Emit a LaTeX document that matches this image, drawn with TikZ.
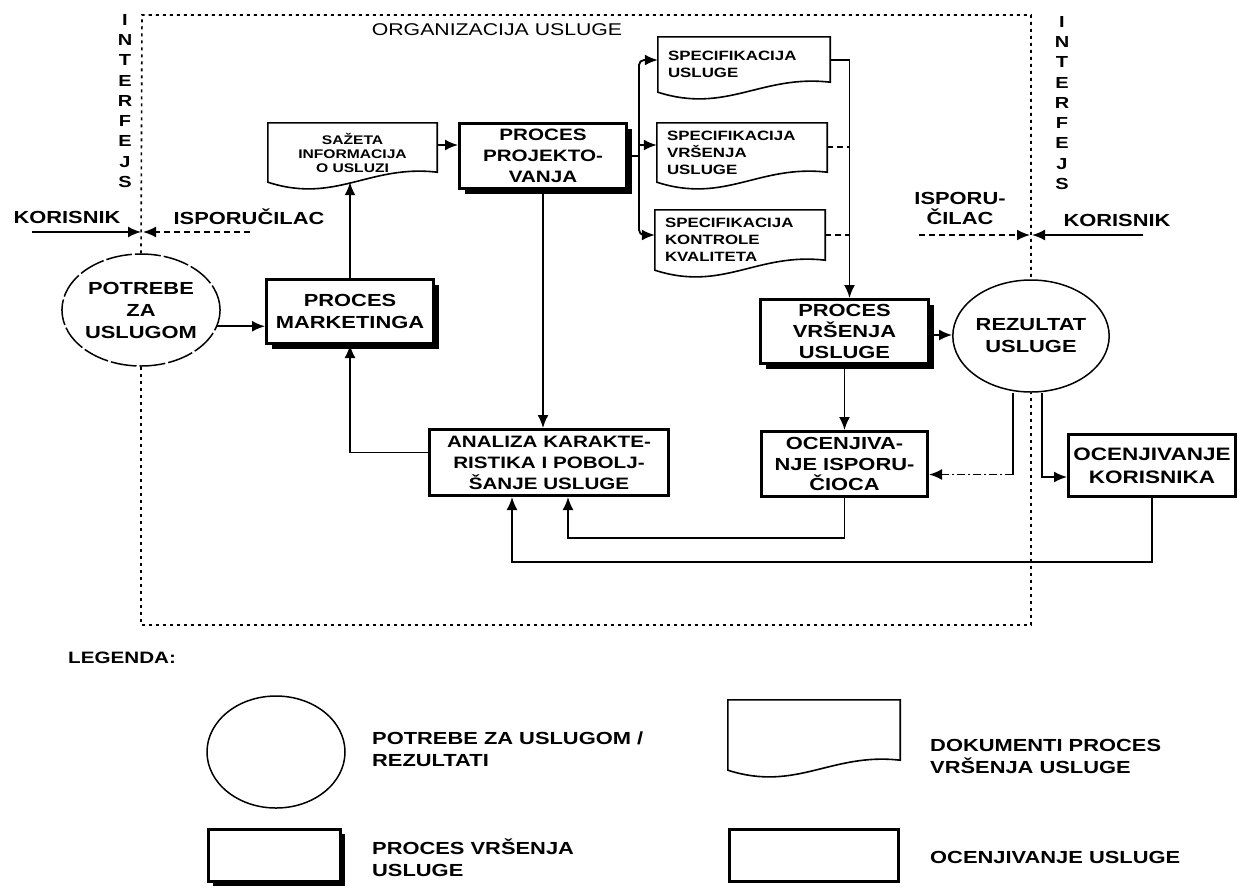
\documentclass[tikz,border=0pt]{standalone}
\usepackage{fontspec}
\setmainfont{Liberation Sans}[FakeStretch=1.25]
\usetikzlibrary{arrows.meta,shapes.geometric,shadows,calc}

\tikzset{
  bxtext/.style={font=\bfseries\fontsize{17}{21}\selectfont, align=center, inner sep=0pt},
  procbox/.style={bxtext, draw, line width=3pt, fill=white,
    drop shadow={shadow xshift=5pt,shadow yshift=-5pt,opacity=1,fill=black}},
  evalbox/.style={bxtext, draw, line width=3pt, fill=white},
  needell/.style={ellipse, draw, line width=1.5pt, minimum width=138pt, minimum height=112pt,
    inner sep=0pt, align=center, font=\bfseries\fontsize{17.5}{22}\selectfont},
  dx/.style={inner sep=0pt, font=\bfseries\fontsize{13.5}{17}\selectfont},
  docline/.style={line width=1.6pt},
  conn/.style={line width=1.8pt},
  arr/.style={conn, -{Latex[length=13pt,width=11pt]}},
  bound/.style={line width=1.6pt, dash pattern=on 3pt off 4pt},
  lbl/.style={inner sep=0pt, font=\bfseries\fontsize{17.5}{22}\selectfont},
  legtext/.style={inner sep=0pt, anchor=west, align=left, font=\bfseries\fontsize{17.5}{22}\selectfont},
  dashline/.style={dash pattern=on 6pt off 4pt},
  dashdotline/.style={dash pattern=on 8pt off 3pt on 2pt off 3pt},
}

\newcommand\docoutline[1]{%
  \draw[docline] (#1.south west) -- (#1.north west) -- (#1.north east)
    -- ($(#1.south east)+(0,-10)$)
    .. controls ($(#1.south west)!0.6!(#1.south east)+(0,-18)$)
    and ($(#1.south west)!0.4!(#1.south east)+(0,22)$) .. (#1.south west) -- cycle;}

\begin{document}
\begin{tikzpicture}[x=1pt,y=-1pt]
\path[use as bounding box, fill=white] (0,0) rectangle (1241,887);

% ---------- interface / organisation boundary ----------
\node[needell, dash pattern=on 26pt off 3pt] (potrebe) at (141,310) {POTREBE\\ZA\\USLUGOM};
\node[needell] (rez) at (1031,336) {REZULTAT\\USLUGE};

\coordinate (tl) at (142,15);
\coordinate (tr) at (1031,15);
\coordinate (bl) at (141,625);
\coordinate (br) at (1031,625);
\draw[bound] (potrebe.north) -- (tl) -- (tr) -- (rez.north);
\draw[bound] (potrebe.south) -- (bl) -- (br) -- (rez.south);

\node[font=\fontsize{17}{20}\selectfont, inner sep=0pt] (org) at (497,30) {ORGANIZACIJA USLUGE};

\node[lbl, align=center, font=\bfseries\fontsize{16}{20.25}\selectfont] (ifL) at (125,101) {I\\N\\T\\E\\R\\F\\E\\J\\S};
\node[lbl, align=center, font=\bfseries\fontsize{16}{20.25}\selectfont] (ifR) at (1062,103) {I\\N\\T\\E\\R\\F\\E\\J\\S};

\node[lbl] (korL) at (67,217) {KORISNIK};
\node[lbl] (ispL) at (249,217) {ISPORUČILAC};
\node[lbl, align=center, font=\bfseries\fontsize{17.5}{20}\selectfont] (ispR) at (960,208) {ISPORU-\\ČILAC};
\node[lbl] (korR) at (1117,220) {KORISNIK};

\coordinate (jl) at (142,232);
\coordinate (k1) at (32,232);
\coordinate (i1) at (250,232);
\draw[arr] (k1) -- ([xshift=-1pt]jl);
\draw[arr, dashline] (i1) -- ([xshift=1pt]jl);

\coordinate (jr) at (1031,235);
\coordinate (i2) at (919,235);
\coordinate (k2) at (1143,235);
\draw[arr, dashline] (i2) -- ([xshift=-1pt]jr);
\draw[arr] (k2) -- ([xshift=1pt]jr);

% ---------- process boxes ----------
\node[procbox, minimum width=167pt, minimum height=64pt, font=\bfseries\fontsize{17.5}{22}\selectfont] (mkt) at (350,311.5) {PROCES\\MARKETINGA};
\node[procbox, minimum width=167pt, minimum height=65pt, font=\bfseries\fontsize{16.5}{21}\selectfont] (proj) at (543,156) {PROCES\\PROJEKTO-\\VANJA};
\node[procbox, minimum width=168pt, minimum height=64pt, font=\bfseries\fontsize{17.5}{21}\selectfont] (vrs) at (844.5,331.5) {PROCES\\VRŠENJA\\USLUGE};
\node[evalbox, minimum width=239pt, minimum height=66pt, font=\bfseries\fontsize{16.5}{21}\selectfont] (anal) at (549,462.5) {ANALIZA KARAKTE-\\RISTIKA I POBOLJ-\\ŠANJE USLUGE};
\node[evalbox, minimum width=166pt, minimum height=65pt, font=\bfseries\fontsize{17.5}{20.5}\selectfont] (oiso) at (844.5,464) {OCENJIVA-\\NJE ISPORU-\\ČIOCA};
\node[evalbox, minimum width=167pt, minimum height=62pt, font=\bfseries\fontsize{18}{23}\selectfont] (okor) at (1152,465.5) {OCENJIVANJE\\KORISNIKA};

% ---------- documents ----------
\node[dx, minimum width=169pt, minimum height=59pt, align=center,
      font=\bfseries\fontsize{12.5}{14}\selectfont] (saz) at (352.5,152.5) {SAŽETA\\INFORMACIJA\\O USLUZI};
\docoutline{saz}
\node[dx, minimum width=172pt, minimum height=55pt, text width=152pt, align=left] (d1) at (744,64.5) {SPECIFIKACIJA\\USLUGE};
\docoutline{d1}
\node[dx, minimum width=170pt, minimum height=59pt, text width=150pt, align=left] (d2) at (742,152.5) {SPECIFIKACIJA\\VRŠENJA\\USLUGE};
\docoutline{d2}
\node[dx, minimum width=170pt, minimum height=60pt, text width=150pt, align=left] (d3) at (740,240) {SPECIFIKACIJA\\KONTROLE\\KVALITETA};
\docoutline{d3}

% ---------- connectors ----------
\draw[arr] (potrebe.-12) -- (potrebe.-12 -| mkt.west);
\draw[arr] (mkt.north) -- (mkt.north |- saz.south);
\draw[arr] ([yshift=7.5pt]saz.east) -- ([yshift=7.5pt]saz.east -| proj.west);

\coordinate (bx) at (639,0);
\draw[conn] (proj.east) -- (proj.east -| bx);
\draw[arr, rounded corners=5pt] (proj.east -| bx) |- ([yshift=4.5pt]d1.west);
\draw[arr] (proj.east -| bx) |- ([yshift=7.5pt]d2.west);
\draw[arr, rounded corners=5pt] (proj.east -| bx) |- ([yshift=5pt]d3.west);

\coordinate (vx) at ([xshift=5pt]vrs.north);
\draw[arr] ([yshift=4.5pt]d1.east) -| (vx);
\draw[conn, dashline] ([yshift=5.5pt]d2.east) -- ([yshift=5.5pt]d2.east -| vx);
\draw[conn, dashline] ([yshift=5pt]d3.east) -- ([yshift=5pt]d3.east -| vx);

\draw[arr] (proj.south) -- (proj.south |- anal.north);
\draw[arr] ([yshift=10pt]anal.west) -| (mkt.south);

\draw[arr] ([yshift=-3.5pt]vrs.east) -- ([yshift=-3.5pt]vrs.east -| rez.west);
\draw[arr] (vrs.south) -- (oiso.north);

\coordinate (ra) at ([yshift=-10.5pt]oiso.east);
\coordinate (rb) at ([xshift=-18pt]rez.south);
\draw[conn] (rb) -- (rb |- ra);
\draw[arr, dashdotline] (rb |- ra) -- (ra);

\coordinate (rc) at ([xshift=11pt]rez.south);
\draw[arr] (rc) |- ([yshift=-11.5pt]okor.west);

\draw[arr] (okor.south) -- ++(0,64) -| ([xshift=-37pt]anal.south);
\draw[arr] (oiso.south) -- ++(0,40) -| ([xshift=19pt]anal.south);

% ---------- legend ----------
\node[legtext, font=\bfseries\fontsize{16.5}{20}\selectfont] (legT) at (68,658) {LEGENDA:};
\node[needell] (lell) at (276,752) {};
\node[legtext] (lt1) at (372,749) {POTREBE ZA USLUGOM /\\REZULTATI};
\node[dx, minimum width=172pt, minimum height=70pt] (ldoc) at (814,735) {};
\docoutline{ldoc}
\node[legtext] (lt2) at (930,756) {DOKUMENTI PROCES\\VRŠENJA USLUGE};
\node[procbox, minimum width=132pt, minimum height=52pt] (lb1) at (274,855) {};
\node[legtext] (lt3) at (372,858) {PROCES VRŠENJA\\USLUGE};
\node[evalbox, minimum width=169pt, minimum height=52pt] (lb2) at (814,855) {};
\node[legtext] (lt4) at (930,857) {OCENJIVANJE USLUGE};
\end{tikzpicture}
\end{document}
